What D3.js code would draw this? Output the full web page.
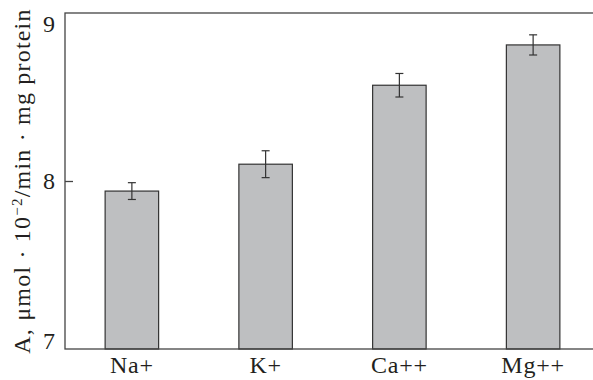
<!DOCTYPE html>
<html>
<head>
<meta charset="utf-8">
<script src="https://cdn.jsdelivr.net/npm/d3@7"></script>
<style>
  body { margin: 0; background: #fff; }
  text { font-family: "Liberation Serif", "DejaVu Serif", serif; fill: #231f20; }
</style>
</head>
<body>
<div id="chart"></div>
<script>
var ions = ["Na+", "K+", "Ca++", "Mg++"]
var activity = [7.94, 8.10, 8.57, 8.81]
var errors = [0.05, 0.08, 0.07, 0.06]
var yTicks = [7, 8, 9]

var width = 593,
    height = 380,
    plotLeft = 65,
    plotTop = 13,
    plotBottom = 349,
    plotRight = 600

var svg = d3.select("#chart")
    .append("svg")
    .attr("width", width)
    .attr("height", height)

var x = d3.scaleBand()
    .domain(ions)
    .range([plotLeft, plotRight])
    .paddingInner(0.6)
    .paddingOuter(0.3)

var y = d3.scaleLinear()
    .domain([7, 9])
    .range([plotBottom, plotTop])

// bars
svg.selectAll("rect.bar")
    .data(ions)
    .enter()
    .append("rect")
    .attr("class", "bar")
    .attr("x", function (d) { return x(d) })
    .attr("y", function (d, i) { return y(activity[i]) })
    .attr("width", x.bandwidth())
    .attr("height", function (d, i) { return y(7) - y(activity[i]) })
    .attr("fill", "#bebfc1")
    .attr("stroke", "#333")
    .attr("stroke-width", 1.2)

// error bars
var eb = svg.selectAll("g.err")
    .data(ions)
    .enter()
    .append("g")
    .attr("class", "err")
    .attr("stroke", "#333")
    .attr("stroke-width", 1.2)

eb.append("line")
    .attr("x1", function (d) { return x(d) + x.bandwidth() / 2 })
    .attr("x2", function (d) { return x(d) + x.bandwidth() / 2 })
    .attr("y1", function (d, i) { return y(activity[i] + errors[i]) })
    .attr("y2", function (d, i) { return y(activity[i] - errors[i]) })

eb.append("line")
    .attr("x1", function (d) { return x(d) + x.bandwidth() / 2 - 4 })
    .attr("x2", function (d) { return x(d) + x.bandwidth() / 2 + 4 })
    .attr("y1", function (d, i) { return y(activity[i] + errors[i]) })
    .attr("y2", function (d, i) { return y(activity[i] + errors[i]) })

eb.append("line")
    .attr("x1", function (d) { return x(d) + x.bandwidth() / 2 - 4 })
    .attr("x2", function (d) { return x(d) + x.bandwidth() / 2 + 4 })
    .attr("y1", function (d, i) { return y(activity[i] - errors[i]) })
    .attr("y2", function (d, i) { return y(activity[i] - errors[i]) })

// frame
svg.append("rect")
    .attr("x", plotLeft)
    .attr("y", plotTop)
    .attr("width", plotRight - plotLeft)
    .attr("height", plotBottom - plotTop)
    .attr("fill", "none")
    .attr("stroke", "#444")
    .attr("stroke-width", 1.3)

// y axis, ticks pointing inward
var yAxis = svg.append("g")
    .attr("transform", "translate(" + plotLeft + ",0)")
    .call(d3.axisLeft(y).tickValues(yTicks).tickFormat(d3.format("d")).tickSizeInner(-8).tickSizeOuter(0).tickPadding(10))

yAxis.select(".domain").remove()
yAxis.selectAll("line").attr("stroke", "#444").attr("stroke-width", 1.3)
yAxis.selectAll("text")
    .style("font-family", "Liberation Serif, serif")
    .style("font-size", "24px")
    .attr("fill", "#231f20")
    .attr("dy", function (d) { return d === 9 ? "0.75em" : d === 7 ? "-0.04em" : "0.3em" })
yAxis.selectAll(".tick").filter(function (d) { return d !== 8 }).select("line").remove()

// x axis labels
var xAxis = svg.append("g")
    .attr("transform", "translate(0," + plotBottom + ")")
    .call(d3.axisBottom(x).tickSize(0).tickPadding(7))

xAxis.select(".domain").remove()
xAxis.selectAll("text")
    .style("font-family", "Liberation Serif, serif")
    .style("font-size", "24px")
    .style("letter-spacing", "0.8px")
    .attr("fill", "#231f20")

// y label
var yl = svg.append("text")
    .attr("transform", "translate(30," + ((plotTop + plotBottom) / 2) + ") rotate(-90)")
    .attr("text-anchor", "middle")
    .style("font-size", "24px")
    .style("letter-spacing", "1.2px")

yl.append("tspan").text("A, μmol · 10")
yl.append("tspan").text("−2").attr("baseline-shift", "super").style("font-size", "15px")
yl.append("tspan").text("/min · mg protein")
</script>
</body>
</html>
